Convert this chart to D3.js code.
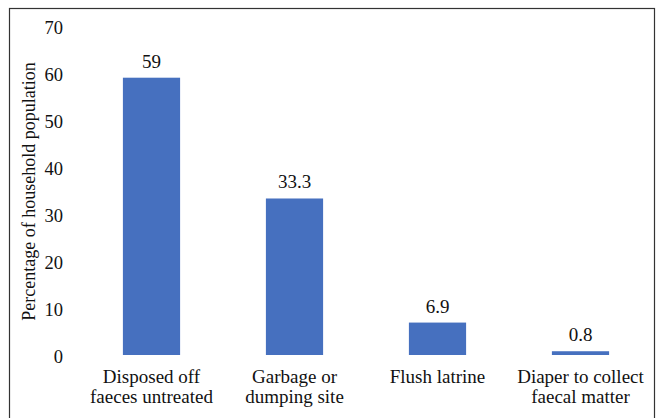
<!DOCTYPE html>
<html><head><meta charset="utf-8">
<script src="https://cdn.jsdelivr.net/npm/d3@7"></script>
<style>body{margin:0;background:#fff}svg{display:block}</style>
</head><body>
<svg id="c" width="658" height="418"></svg>
<script>
const categories = [["Disposed off","faeces untreated"],["Garbage or","dumping site"],["Flush latrine"],["Diaper to collect","faecal matter"]];
const values = [59, 33.3, 6.9, 0.8];
const valueLabels = ["59","33.3","6.9","0.8"];
const yTicks = [0,10,20,30,40,50,60,70];
const yTitle = "Percentage of household population";

const FF = '"Liberation Serif"';
const svg = d3.select("#c");
svg.append("rect").attr("x",9.5).attr("y",8.5).attr("width",645).attr("height",415)
  .attr("fill","none").attr("stroke","#333").attr("stroke-width",1.2);

const x = d3.scaleBand().domain(d3.range(values.length)).range([80,652]).paddingInner(0.6).paddingOuter(0.3);
const y = d3.scaleLinear().domain([0,70]).range([355,26]);

const g = svg.append("g");
g.selectAll("rect.bar").data(values).join("rect").attr("class","bar")
  .attr("x",(d,i)=>x(i)).attr("width",x.bandwidth())
  .attr("y",d=>y(d)).attr("height",d=>y(0)-y(d)).attr("fill","#4670BF");

g.selectAll("text.val").data(values).join("text").attr("class","val")
  .attr("x",(d,i)=>x(i)+x.bandwidth()/2).attr("y",d=>y(d)-10)
  .attr("text-anchor","middle").style("font-family",FF).style("font-size","19px").attr("fill","#111")
  .text((d,i)=>valueLabels[i]);

const yAxis = d3.axisLeft(y).tickValues(yTicks).tickSize(0).tickPadding(0);
const ya = svg.append("g").attr("transform","translate(63,1)").call(yAxis);
ya.select(".domain").remove();
ya.selectAll("text").style("font-family",FF).style("font-size","18.5px").attr("fill","#111").attr("dy","0.35em");

categories.forEach((lines,i)=>{
  const t = svg.append("text").attr("text-anchor","middle").style("font-family",FF).style("font-size","19px").attr("fill","#111");
  lines.forEach((l,j)=>t.append("tspan").attr("x",x(i)+x.bandwidth()/2).attr("y",383+j*19.5).text(l));
});

svg.append("text").attr("transform","translate(35,191.5) rotate(-90)").attr("text-anchor","middle")
  .style("font-family",FF).style("font-size","18px").attr("fill","#111").text(yTitle);
</script>
</body></html>
